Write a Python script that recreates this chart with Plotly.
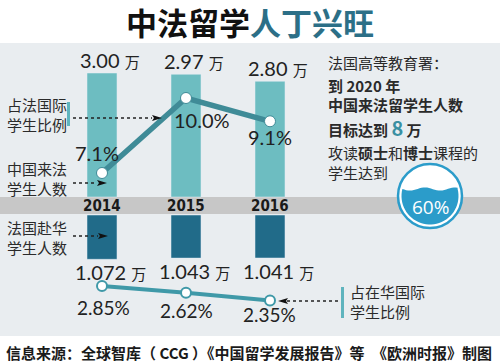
import numpy as np
import plotly.graph_objects as go

# ---------------- data ----------------
years = ["2014", "2015", "2016"]
cn_to_fr = [3.00, 2.97, 2.80]          # 中国来法学生人数 (万)
fr_to_cn = [1.072, 1.043, 1.041]       # 法国赴华学生人数 (万)
share_in_fr = [7.1, 10.0, 9.1]         # 占法国际学生比例 (%)
share_in_cn = [2.85, 2.62, 2.35]       # 占在华国际学生比例 (%)
target_2020 = 8
master_phd_pct = 60

W, H = 500, 364
def px(x): return x / W
def py(y): return 1 - y / H

NUMF = "Lato, 'Open Sans', sans-serif"
CJK = "'Noto Sans CJK SC', 'Noto Sans', sans-serif"
TXT = "#222222"
TEAL_BAR = "#6dbdc1"
DARK_BAR = "#216b89"
LINE1 = "#3f8b97"
LINE2 = "#3f99a8"
TITLE_TEAL = "#2c6f87"

fig = go.Figure()

# bars
fig.add_trace(go.Bar(x=years, y=cn_to_fr, yaxis="y", marker_color=TEAL_BAR,
                     width=0.357, hoverinfo="skip"))
fig.add_trace(go.Bar(x=years, y=fr_to_cn, yaxis="y2", marker_color=DARK_BAR,
                     width=0.357, hoverinfo="skip"))
# lines
fig.add_trace(go.Scatter(x=years, y=share_in_fr, yaxis="y3", mode="lines+markers",
                         line=dict(color=LINE1, width=5.5),
                         marker=dict(size=11, color="white", line=dict(color=LINE1, width=1)),
                         hoverinfo="skip", cliponaxis=False))
fig.add_trace(go.Scatter(x=years, y=share_in_cn, yaxis="y4", mode="lines+markers",
                         line=dict(color=LINE2, width=4),
                         marker=dict(size=10, color="white", line=dict(color=LINE2, width=2)),
                         hoverinfo="skip", cliponaxis=False))

# ---------- axes (pixel-aligned scales) ----------
xr = [-102 / 84, (W - 102) / 84]
k_bar = 124 / 3.0   # px per 万
k_l1 = 75 / 2.9     # px per %
k_l2 = 29.0
ax_common = dict(visible=False, showgrid=False, zeroline=False, fixedrange=True)
fig.update_layout(
    xaxis=dict(type="category", range=xr, domain=[0, 1], **ax_common),
    yaxis=dict(range=[-(H - 197) / k_bar, 197 / k_bar], domain=[0, 1], **ax_common),
    yaxis2=dict(range=[(H - 215) / k_bar, -215 / k_bar], overlaying="y", **ax_common),
    yaxis3=dict(range=[7.1 - (H - 173) / k_l1, 7.1 + 173 / k_l1], overlaying="y", **ax_common),
    yaxis4=dict(range=[2.85 - (H - 286) / k_l2, 2.85 + 286 / k_l2], overlaying="y", **ax_common),
    barmode="overlay",
    width=W, height=H,
    margin=dict(l=0, r=0, t=0, b=0),
    paper_bgcolor="white", plot_bgcolor="rgba(0,0,0,0)",
    showlegend=False,
)

shapes = []
# panel
shapes.append(dict(type="rect", xref="paper", yref="paper", x0=0, x1=1, y0=py(336), y1=py(43),
                   fillcolor="#e9edf0", line_width=0, layer="below"))
# grey band
shapes.append(dict(type="rect", xref="paper", yref="paper", x0=0, x1=1, y0=py(214), y1=py(197),
                   fillcolor="#c7c7c7", line_width=0, layer="below"))

def tri(tipx, y, direction, L=10, h=6):
    bx = tipx - L if direction > 0 else tipx + L
    return dict(type="path", xref="paper", yref="paper",
                path=f"M {px(tipx)},{py(y)} L {px(bx)},{py(y - h/2)} L {px(bx + (2 if direction>0 else -2))},{py(y)} L {px(bx)},{py(y + h/2)} Z",
                fillcolor="#111111", line_width=0, layer="above")

def dotted(x0, x1, y):
    return dict(type="line", xref="paper", yref="paper", x0=px(x0), x1=px(x1), y0=py(y), y1=py(y),
                line=dict(color="#222222", width=1.6, dash="dot"), layer="above")

# arrows
shapes += [dotted(73, 152, 118), tri(162, 118, 1)]
shapes += [dotted(73, 97, 183), tri(107, 183, 1)]
shapes += [dotted(73, 98, 236), tri(108, 236, 1)]
shapes += [dotted(287, 340, 301), tri(278, 301, -1)]

# teal vertical markers
shapes.append(dict(type="rect", xref="paper", yref="paper", x0=px(67), x1=px(70), y0=py(126), y1=py(102),
                   fillcolor="#5fb4be", line_width=0))
shapes.append(dict(type="rect", xref="paper", yref="paper", x0=px(341), x1=px(344), y0=py(318), y1=py(287),
                   fillcolor="#5fb4be", line_width=0))

# 60% circle
cx, cy, R = 430, 196, 32
shapes.append(dict(type="circle", xref="paper", yref="paper",
                   x0=px(cx - R), x1=px(cx + R), y0=py(cy + R), y1=py(cy - R),
                   fillcolor="white", line=dict(color="#2b9cca", width=2.5), layer="above"))
r = 28.5
wy = 189
dx = np.sqrt(r**2 - (cy - wy)**2)
xs = np.linspace(cx - dx, cx + dx, 30)
ys = wy + 1.6 * np.sin(2 * np.pi * (xs - (cx - dx)) / 30)
pts = [(x, y) for x, y in zip(xs, ys)]
t0 = np.arcsin((wy - cy) / r)
ths = np.linspace(t0, np.pi - t0, 40)
pts += [(cx + r * np.cos(t), cy + r * np.sin(t)) for t in ths]
path = "M " + " L ".join(f"{px(x):.5f},{py(y):.5f}" for x, y in pts) + " Z"
shapes.append(dict(type="path", xref="paper", yref="paper", path=path,
                   fillcolor="#2b9cca", line_width=0, layer="above"))

fig.update_layout(shapes=shapes)

ann = []
def A(**kw):
    kw.setdefault("showarrow", False)
    ann.append(kw)

# title
A(x=0.5, y=py(21), xref="paper", yref="paper", xanchor="center", yanchor="middle",
  text="<b>中法留学<span style='color:%s'>人丁兴旺</span></b>" % TITLE_TEAL,
  font=dict(family=CJK, size=31, color="#111111"))

# year labels (category index positions on the x axis)
for i, yr in enumerate(years):
    A(x=i, y=py(206), xref="x", yref="paper", xanchor="center", yanchor="middle",
      text=f"<b>{yr}</b>",
      font=dict(family="'DejaVu Sans Condensed', 'Liberation Sans Narrow', sans-serif",
                size=15, color="#1a1a1a"))

# top bar values
for i, v in enumerate(cn_to_fr):
    A(x=i, y=v, xref="x", yref="y", xanchor="center", yanchor="bottom", xshift=8, yshift=-1,
      text=f"{v:.2f} <span style='font-size:15px;font-family:Noto Sans CJK SC'>万</span>",
      font=dict(family=NUMF, size=20, color=TXT))
# bottom bar values
for i, v in enumerate(fr_to_cn):
    A(x=i, y=v, xref="x", yref="y2", xanchor="center", yanchor="top", xshift=8, yshift=1,
      text=f"{v:.3f} <span style='font-size:15px;font-family:Noto Sans CJK SC'>万</span>",
      font=dict(family=NUMF, size=20, color=TXT))
# top line labels
offs1 = [(-5, 20), (16, -22), (0, -16)]
for i, (v, (dxs, dys)) in enumerate(zip(share_in_fr, offs1)):
    A(x=i, y=v, xref="x", yref="y3", xanchor="center", yanchor="middle", xshift=dxs, yshift=dys,
      text=f"{v:.1f}%", font=dict(family=NUMF, size=20, color=TXT))
# bottom line labels
offs2 = [(1, -21), (0, -18), (-1, -14)]
for i, (v, (dxs, dys)) in enumerate(zip(share_in_cn, offs2)):
    A(x=i, y=v, xref="x", yref="y4", xanchor="center", yanchor="middle", xshift=dxs, yshift=dys,
      text=f"{v:.2f}%", font=dict(family=NUMF, size=19, color=TXT))

# left labels
lab_font = dict(family=CJK, size=15, color="#2a2a2a")
A(x=px(5), y=py(114), xref="paper", yref="paper", xanchor="left", yanchor="middle",
  text="占法国际<br>学生比例", font=lab_font, align="left")
A(x=px(5), y=py(178), xref="paper", yref="paper", xanchor="left", yanchor="middle",
  text="中国来法<br>学生人数", font=lab_font, align="left")
A(x=px(5), y=py(237), xref="paper", yref="paper", xanchor="left", yanchor="middle",
  text="法国赴华<br>学生人数", font=lab_font, align="left")
A(x=px(348), y=py(301), xref="paper", yref="paper", xanchor="left", yanchor="middle",
  text="占在华国际<br>学生比例", font=lab_font, align="left")

# right text block
rf = dict(family=CJK, size=15, color="#2a2a2a")
A(x=px(326), y=py(62), xref="paper", yref="paper", xanchor="left", yanchor="middle",
  text="法国高等教育署：", font=rf)
A(x=px(326), y=py(85), xref="paper", yref="paper", xanchor="left", yanchor="middle",
  text="<b>到 2020 年</b>", font=rf)
A(x=px(326), y=py(105), xref="paper", yref="paper", xanchor="left", yanchor="middle",
  text="<b>中国来法留学生人数</b>", font=rf)
A(x=px(326), y=py(127), xref="paper", yref="paper", xanchor="left", yanchor="middle",
  text=f"<b>目标达到 <span style='color:#3a90a2;font-size:20px'>{target_2020}</span> 万</b>", font=rf)
A(x=px(326), y=py(152), xref="paper", yref="paper", xanchor="left", yanchor="middle",
  text="攻读<b>硕士</b>和<b>博士</b>课程的", font=rf)
A(x=px(326), y=py(172), xref="paper", yref="paper", xanchor="left", yanchor="middle",
  text="学生达到", font=rf)
A(x=px(430), y=py(207), xref="paper", yref="paper", xanchor="center", yanchor="middle",
  text=f"{master_phd_pct}%", font=dict(family="'Open Sans', sans-serif", size=19, color="white"))

# footer
A(x=px(4), y=py(352), xref="paper", yref="paper", xanchor="left", yanchor="middle",
  text="<b>信息来源：全球智库（ CCG ）《中国留学发展报告》等</b>",
  font=dict(family=CJK, size=15, color="#1a1a1a"))
A(x=px(494), y=py(352), xref="paper", yref="paper", xanchor="right", yanchor="middle",
  text="<b>《欧洲时报》制图</b>",
  font=dict(family=CJK, size=15, color="#1a1a1a"))

fig.update_layout(annotations=ann)
fig.write_html("out.html", config={"displayModeBar": False},
               post_script="document.body.style.margin='0';document.body.style.overflow='hidden';")
